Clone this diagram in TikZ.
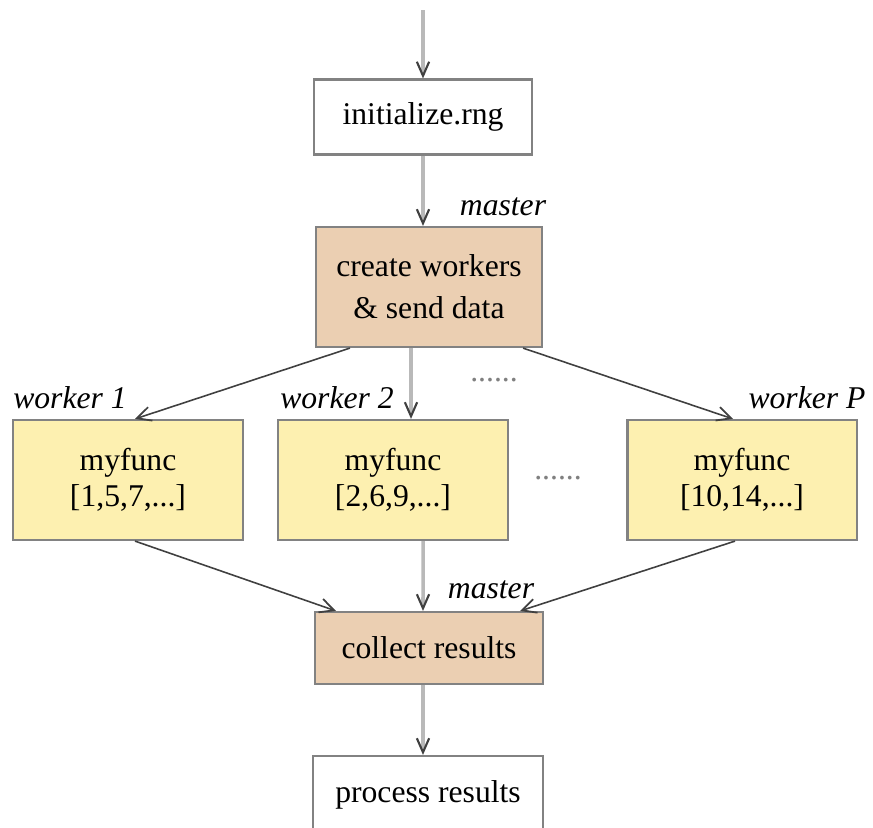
\documentclass[tikz,border=0pt]{standalone}
\usepackage{fontspec}
\setmainfont{Liberation Serif}
\usepackage{xcolor}
\usepackage{tikz}
\usetikzlibrary{arrows.meta}

\definecolor{mastertan}{RGB}{235,207,178}
\definecolor{workeryellow}{RGB}{253,240,176}
\definecolor{boxgray}{RGB}{130,130,130}

\begin{document}
\begin{tikzpicture}[x=0.01cm, y=-0.01cm,
    every node/.style={font=\rmfamily\fontsize{9}{10.2}\selectfont},
    plainbox/.style={draw=boxgray, line width=0.6pt, fill=white, align=center, inner sep=0pt},
    masterbox/.style={plainbox, fill=mastertan},
    workerbox/.style={plainbox, fill=workeryellow, minimum width=2.29cm, minimum height=1.2cm},
    role/.style={font=\rmfamily\fontsize{9}{10.2}\itshape},
    flow/.style={draw=gray!55, line width=1pt, -{Straight Barb[length=4pt, width=3.5pt, color=black!75, line width=0.6pt]}},
    fork/.style={draw=black!75, line width=0.45pt, -{Straight Barb[length=4pt, width=4pt, line width=0.5pt]}},
    gapdots/.style={text=gray}]
        \clip (0,0) rectangle (873,827);

        \coordinate (start) at (423,10);

        \node [plainbox, minimum width=2.17cm, minimum height=0.75cm] (init) at (423,117) {initialize.rng};
        \node [masterbox, minimum width=2.26cm, minimum height=1.2cm] (create) at (429,287) {create workers\\[1.8pt]\& send data};

        \node [workerbox] (worker1) at (128,480) {myfunc\\{[1,5,7,...]}};
        \node [workerbox] (worker2) at (393,480) {myfunc\\{[2,6,9,...]}};
        \node [workerbox] (workerP) at (742,480) {myfunc\\{[10,14,...]}};

        \node [masterbox, minimum width=2.27cm, minimum height=0.72cm] (collect) at (429,648) {collect results};
        \node [plainbox, minimum width=2.29cm, minimum height=0.78cm] (process) at (428,795) {process results};

        % who runs what
        \node [role] (mastertop) at (503,207) {master};
        \node [role] (role1) at (70,398) {worker 1};
        \node [role] (role2) at (337,398) {worker 2};
        \node [role] (roleP) at (807,398) {worker P};
        \node [role] (masterbot) at (491,590) {master};

        \node [gapdots] (dotsup) at (494,380) {......};
        \node [gapdots] (dotsmid) at (558,478) {......};

        \draw [flow] (start) -- (init.north);
        \draw [flow] (init.south) -- (init.south |- create.north);

        \draw [fork] ([xshift=-0.79cm]create.south) -- ([xshift=0.07cm]worker1.north);
        \draw [flow] ([xshift=0.18cm]worker2.north |- create.south) -- ([xshift=0.18cm]worker2.north);
        \draw [fork] ([xshift=0.94cm]create.south) -- ([xshift=-0.09cm]workerP.north);

        \draw [fork] ([xshift=0.07cm]worker1.south) -- ([xshift=-0.93cm]collect.north);
        \draw [flow] ([xshift=0.3cm]worker2.south) -- ([xshift=-0.06cm]collect.north);
        \draw [fork] ([xshift=-0.07cm]workerP.south) -- ([xshift=0.91cm]collect.north);

        \draw [flow] ([xshift=-0.06cm]collect.south) -- ([xshift=-0.06cm]collect.south |- process.north);
\end{tikzpicture}
\end{document}
